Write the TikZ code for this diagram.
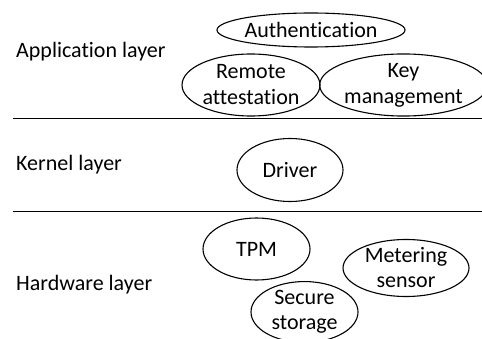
\documentclass[tikz,border=0pt]{standalone}
\usepackage{fontspec}
\setmainfont{Carlito}[RawFeature=-liga]
\usetikzlibrary{shapes.geometric}
\begin{document}
\begin{tikzpicture}[x=1pt,y=-1pt,
  lbl/.style={anchor=west,inner sep=0pt,font=\fontsize{22}{26}\selectfont},
  ell/.style={draw,ellipse,line width=1.1pt,inner sep=0pt,align=center,font=\fontsize{22}{25}\selectfont},
  sep/.style={line width=1.8pt}]
\useasboundingbox (0,0) rectangle (482,339);
\node[lbl] (app) at (16,52) {Application layer};
\node[lbl] (ker) at (16,165) {Kernel layer};
\node[lbl] (hw) at (16,285) {Hardware layer};
\coordinate (l1a) at (13,118.5); \coordinate (l1b) at (482,118.5);
\coordinate (l2a) at (13,211.5); \coordinate (l2b) at (482,211.5);
\draw[sep] (l1a) -- (l1b);
\draw[sep] (l2a) -- (l2b);
\node[ell,minimum width=186,minimum height=34] (auth) at (311,30) {Authentication};
\node[ell,minimum width=138,minimum height=62,font=\fontsize{22}{26}\selectfont] (ra) at (251,85) {Remote\\attestation};
\node[ell,minimum width=156,minimum height=62,font=\fontsize{22}{26}\selectfont] (km) at (403.5,85) {Key\\management};
\node[ell,minimum width=106,minimum height=63] (drv) at (290,170) {Driver};
\node[ell,minimum width=107,minimum height=62] (tpm) at (256.5,249) {TPM};
\node[ell,minimum width=126,minimum height=57] (ms) at (406,268) {Metering\\sensor};
\node[ell,minimum width=107,minimum height=58] (ss) at (304.5,312) {Secure\\storage};
\end{tikzpicture}
\end{document}
